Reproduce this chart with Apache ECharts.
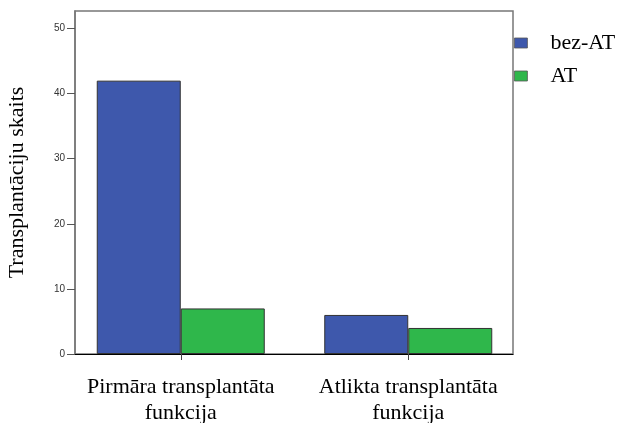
<!DOCTYPE html>
<html>
<head>
<meta charset="utf-8">
<script src="https://cdn.jsdelivr.net/npm/echarts@6/dist/echarts.min.js"></script>
<style>
  html, body { margin: 0; padding: 0; background: #fff; }
  #chart { width: 625px; height: 423px; }
</style>
</head>
<body>
<div id="chart"></div>
<script>
const categories = ['Pirmāra transplantāta\nfunkcija', 'Atlikta transplantāta\nfunkcija']
const seriesNames = ['bez-AT', 'AT']
const bezAT = [42, 6]
const AT = [7, 4]
const yTicks = [0, 10, 20, 30, 40, 50]
const yMax = 52.7

const serif = '"Liberation Serif", "Times New Roman", serif'
const sans = '"Liberation Sans", Arial, sans-serif'

const chart = echarts.init(document.getElementById('chart'))

// grid 0 = plot frame + y axis, grid 1 = bars (wider band so groups sit like SPSS)
const option = {
  animation: false,
  grid: [
    { left: 75, top: 11, width: 438, height: 343, show: true, borderColor: '#777', borderWidth: 1.5, backgroundColor: 'transparent', outerBoundsMode: 'none', containLabel: false },
    { left: 67, top: 11, width: 455, height: 343, outerBoundsMode: 'none', containLabel: false },
  ],
  legend: {
    orient: 'vertical',
    left: 514,
    top: 32,
    padding: 0,
    itemWidth: 13,
    itemHeight: 10,
    itemGap: 11,
    icon: 'rect',
    data: seriesNames,
    itemStyle: { borderColor: '#555', borderWidth: 0.8 },
    textStyle: { fontFamily: serif, fontSize: 22, lineHeight: 22, color: '#000', padding: [0, 0, 0, 18] },
  },
  xAxis: [
    {
      gridIndex: 0, type: 'value', min: 0, max: 1,
      axisLine: { show: true, onZero: false, lineStyle: { color: '#000', width: 1 } },
      axisTick: { show: false }, axisLabel: { show: false }, splitLine: { show: false },
    },
    {
      gridIndex: 1, type: 'category', data: categories,
      axisLine: { show: false },
      axisTick: { show: true, alignWithLabel: true, interval: 0, length: 6, lineStyle: { color: '#444' } },
      axisLabel: { interval: 0, hideOverlap: false, margin: 20, fontFamily: serif, fontSize: 22, color: '#000', lineHeight: 26 },
      splitLine: { show: false },
    },
  ],
  yAxis: [
    {
      gridIndex: 0, type: 'value', min: 0, max: yMax, interval: 10,
      name: 'Transplantāciju skaits',
      nameLocation: 'middle',
      nameGap: 47,
      nameTextStyle: { fontFamily: serif, fontSize: 22, color: '#000' },
      axisLine: { show: true, lineStyle: { color: '#777', width: 1.5 } },
      axisTick: { show: true, length: 8, customValues: yTicks, lineStyle: { color: '#555' } },
      axisLabel: { customValues: yTicks, margin: 10, fontFamily: sans, fontSize: 10, color: '#333' },
      splitLine: { show: false },
    },
    {
      gridIndex: 1, type: 'value', min: 0, max: yMax, show: false, splitLine: { show: false },
    },
  ],
  series: [
    {
      name: seriesNames[0], type: 'bar', xAxisIndex: 1, yAxisIndex: 1,
      data: bezAT, barWidth: 84, barGap: '0%',
      itemStyle: { color: '#3e58ac', borderColor: '#333', borderWidth: 1 },
    },
    {
      name: seriesNames[1], type: 'bar', xAxisIndex: 1, yAxisIndex: 1,
      data: AT, barWidth: 84, barGap: '0%',
      itemStyle: { color: '#2fb74b', borderColor: '#333', borderWidth: 1 },
    },
  ],
}

chart.setOption(option)
</script>
</body>
</html>
